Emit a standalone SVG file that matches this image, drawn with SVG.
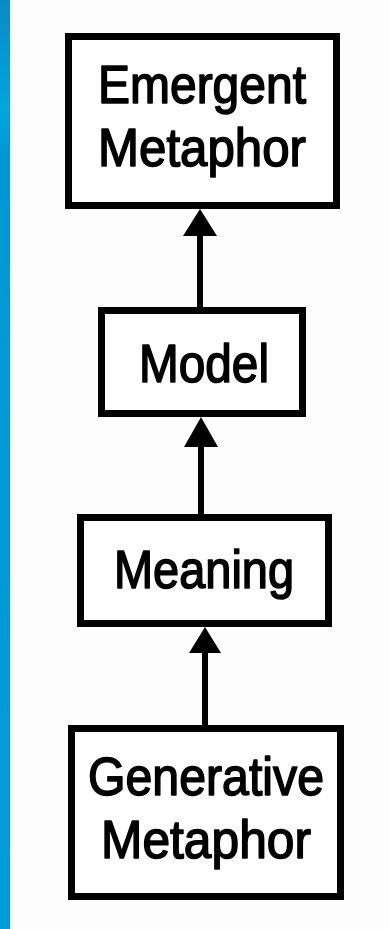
<svg xmlns="http://www.w3.org/2000/svg" width="389" height="929" viewBox="0 0 389 929">
  <defs>
    <linearGradient id="edge" x1="0" y1="0" x2="0" y2="1">
      <stop offset="0" stop-color="#0a8ac6"/>
      <stop offset="0.12" stop-color="#02a6dc"/>
      <stop offset="0.16" stop-color="#0098d4"/>
      <stop offset="1" stop-color="#009ed9"/>
    </linearGradient>
    <style>
      .box { fill: #ffffff; stroke: #000000; stroke-width: 7; }
      .lbl { font-family: "Liberation Sans", Arial, sans-serif; font-size: 53px; fill: #000000; stroke: #000000; stroke-width: 1.6; stroke-linejoin: round; text-anchor: middle; }
      .wire { stroke: #000000; stroke-width: 6; fill: none; }
      .head { fill: #000000; }
    </style>
  </defs>

  <!-- paper -->
  <rect x="0" y="0" width="389" height="929" fill="#fdfdfd"/>
  <!-- coloured left edge -->
  <rect x="0" y="0" width="10" height="929" fill="url(#edge)"/>

  <!-- connectors: each points upward into the box above -->
  <g id="connectors">
    <line class="wire" x1="200" y1="232" x2="200" y2="308"/>
    <polygon class="head" points="200,209 183,236 217,236"/>
    <line class="wire" x1="201" y1="444" x2="201" y2="515"/>
    <polygon class="head" points="201,417 184,447 218,447"/>
    <line class="wire" x1="205" y1="650" x2="205" y2="726"/>
    <polygon class="head" points="205,627 189,653 221,653"/>
  </g>

  <g id="emergent-metaphor">
    <rect class="box" x="68.5" y="36.5" width="268" height="169"/>
    <text class="lbl" x="202" y="103" textLength="208" lengthAdjust="spacingAndGlyphs">Emergent</text>
    <text class="lbl" x="202" y="166" textLength="208" lengthAdjust="spacingAndGlyphs">Metaphor</text>
  </g>

  <g id="model">
    <rect class="box" x="101.5" y="310.5" width="201" height="103"/>
    <text class="lbl" x="204" y="382" textLength="130" lengthAdjust="spacingAndGlyphs">Model</text>
  </g>

  <g id="meaning">
    <rect class="box" x="80.5" y="517.5" width="248" height="106"/>
    <text class="lbl" x="204" y="588" textLength="180" lengthAdjust="spacingAndGlyphs">Meaning</text>
  </g>

  <g id="generative-metaphor">
    <rect class="box" x="71.5" y="728.5" width="269" height="168"/>
    <text class="lbl" x="206" y="795" textLength="236" lengthAdjust="spacingAndGlyphs">Generative</text>
    <text class="lbl" x="206" y="858" textLength="210" lengthAdjust="spacingAndGlyphs">Metaphor</text>
  </g>
</svg>
